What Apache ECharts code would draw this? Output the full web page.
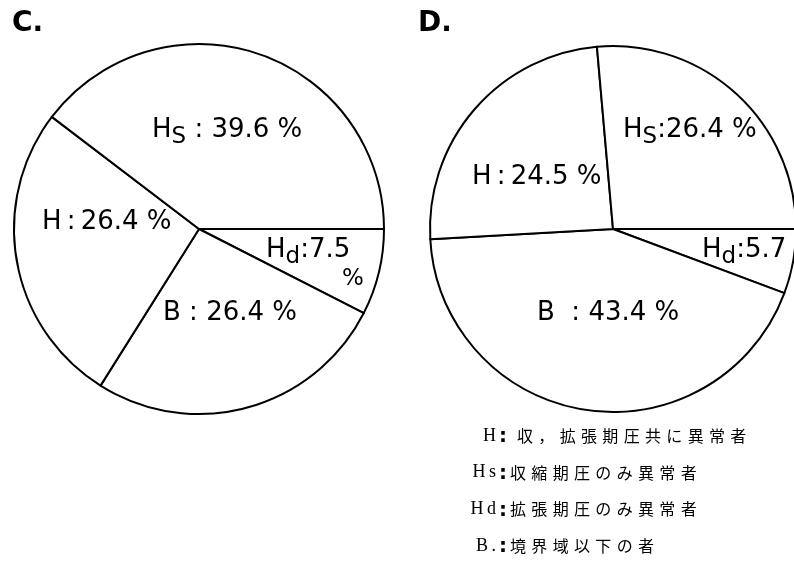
<!DOCTYPE html>
<html><head><meta charset="utf-8">
<script src="https://cdn.jsdelivr.net/npm/echarts@6/dist/echarts.min.js"></script>
<style>html,body{margin:0;padding:0;background:#fff}#c{width:794px;height:564px}</style>
</head><body><div id="c"></div>
<script>
// ---- data ----
const categories = ['Hd', 'B', 'H', 'Hs'];
const valuesC = [7.5, 26.4, 26.4, 39.6];
const valuesD = [5.7, 43.4, 24.5, 26.4];
const panelTitles = ['C.', 'D.'];
const legendCodes = ['H', 'Hs', 'Hd', 'B.'];
const legendTexts = ['収，拡張期圧共に異常者', '収縮期圧のみ異常者', '拡張期圧のみ異常者', '境界域以下の者'];

// ---- layout (not data) ----
const labelAnchorsC = [[266, 250], [163, 313], [42, 222], [152, 130]];
const labelAnchorsD = [[702, 250], [537, 313], [472, 177], [623, 130]];
const sepC = [':', ' : ', '\u2009:\u2009', ' : '];
const sepD = [':', '  : ', '\u2009:\u2009', ':'];

const chart = echarts.init(document.getElementById('c'), null, {renderer: 'canvas'});
const FONT = 'DejaVu Sans';

function fmtLabel(name, value, sep, wrapPct) {
  let head;
  if (name.length > 1) {
    const sub = name[1] === 's' ? 'S' : name[1];
    head = '{t|H}{s|' + sub + '}';
  } else {
    head = '{t|' + name + '}';
  }
  const num = value.toFixed(1);
  if (wrapPct) return head + '{t|' + sep + num + '}\n{p|%}';
  return head + '{t|' + sep + num + ' %}';
}

const richStyles = {
  t: {fontFamily: FONT, fontSize: 26, color: '#000', lineHeight: 30},
  s: {fontFamily: FONT, fontSize: 23, color: '#000', lineHeight: 30, padding: [14, 0, 0, 0]},
  p: {fontFamily: FONT, fontSize: 23, color: '#000', lineHeight: 28, padding: [0, 0, 0, 76]}
};

function pieSeries(values, center, radius, anchors, seps, wrapHd) {
  return {
    type: 'pie',
    center: center,
    radius: radius,
    startAngle: 0,
    clockwise: true,
    avoidLabelOverlap: false,
    silent: true,
    animation: false,
    itemStyle: {color: '#fff', borderColor: '#000', borderWidth: 2},
    label: {
      show: true,
      position: 'inside',
      formatter: function (p) {
        return fmtLabel(p.name, p.value, seps[p.dataIndex], wrapHd && p.dataIndex === 0);
      },
      rich: richStyles
    },
    labelLine: {show: false},
    labelLayout: function (p) {
      const a = anchors[p.dataIndex];
      const two = wrapHd && p.dataIndex === 0;
      return {x: a[0], y: two ? a[1] - 15 : a[1], align: 'left', verticalAlign: two ? 'top' : 'middle'};
    },
    data: categories.map((n, i) => ({name: n, value: values[i]}))
  };
}

const graphics = [];
const titlePos = [[12, 10], [418, 10]];
panelTitles.forEach((t, i) => {
  graphics.push({type: 'text', left: titlePos[i][0], top: titlePos[i][1],
    style: {text: t, font: 'bold 28px "DejaVu Sans"', fill: '#000'}});
});
const legendY0 = 436, legendDy = 36.7;
const legendTextX = [517, 510, 510, 510];
legendCodes.forEach((c, i) => {
  const y = legendY0 + i * legendDy;
  graphics.push({type: 'text', x: 496, y: y,
    style: {text: c.split('').join('\u2009'), font: '18px "Liberation Serif"', fill: '#000', align: 'right', verticalAlign: 'middle'}});
  graphics.push({type: 'text', x: 503, y: y + 1,
    style: {text: ':', font: 'bold 20px "DejaVu Sans"', fill: '#000', align: 'center', verticalAlign: 'middle'}});
  graphics.push({type: 'text', x: legendTextX[i], y: y,
    style: {text: legendTexts[i].split('').join('\u2004'), font: '16px "Noto Sans CJK JP"', fill: '#000', align: 'left', verticalAlign: 'middle'}});
});

chart.setOption({
  backgroundColor: '#fff',
  animation: false,
  series: [
    pieSeries(valuesC, [199, 229], 185, labelAnchorsC, sepC, true),
    pieSeries(valuesD, [613, 229], 183, labelAnchorsD, sepD, false)
  ],
  graphic: graphics
});
</script>
</body></html>
